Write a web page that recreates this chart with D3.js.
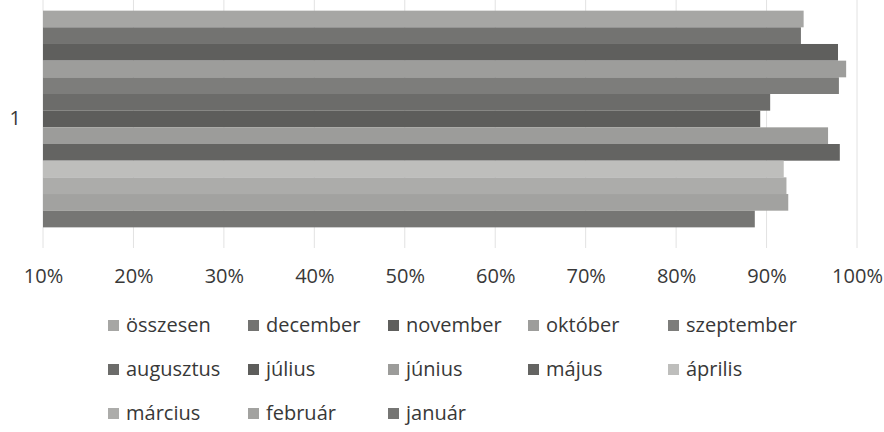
<!DOCTYPE html>
<html>
<head>
<meta charset="utf-8">
<script src="https://cdn.jsdelivr.net/npm/d3@7"></script>
<style>
    body { margin: 0; background: #ffffff; }
    svg { display: block; }
    text { font-family: "Open Sans", "Noto Sans", sans-serif; fill: #383838; }
</style>
</head>
<body>
<svg id="chart" width="884" height="432"></svg>
<script>
// Data
var categories = ["1"];
var seriesNames = ["összesen", "december", "november", "október", "szeptember",
    "augusztus", "július", "június", "május", "április",
    "március", "február", "január"];
var seriesValues = [0.941, 0.938, 0.979, 0.988, 0.980,
    0.904, 0.893, 0.968, 0.981, 0.919,
    0.922, 0.924, 0.887];
var seriesColors = ["#a6a6a4", "#737371", "#5f5f5d", "#9d9d9b", "#7d7d7b",
    "#6c6c6a", "#5d5d5b", "#9c9c9a", "#646462", "#bebebc",
    "#acacaa", "#a2a2a0", "#767674"];
var tickValues = [0.1, 0.2, 0.3, 0.4, 0.5, 0.6, 0.7, 0.8, 0.9, 1.0];

// Layout
var plot = { left: 43, right: 857, top: -10, bottom: 248 };
var legend = { x: 108, y: 320, colWidth: 140, rowHeight: 44, perRow: 5 };

var svg = d3.select("#chart");

var x = d3.scaleLinear()
    .domain([0.1, 1.0])
    .range([plot.left, plot.right]);

var y0 = d3.scaleBand()
    .domain(categories)
    .range([plot.top, plot.bottom])
    .paddingInner(0.16)
    .paddingOuter(0.08);

var y1 = d3.scaleBand()
    .domain(seriesNames)
    .range([0, y0.bandwidth()]);

// Gridlines
svg.append("g")
    .selectAll("line")
    .data(tickValues)
    .enter().append("line")
    .attr("x1", function(d) { return x(d); })
    .attr("x2", function(d) { return x(d); })
    .attr("y1", plot.top)
    .attr("y2", plot.bottom)
    .attr("stroke", "#e2e2e2")
    .attr("stroke-width", 1);

// Bars
var rows = seriesNames.map(function(name, i) {
    return { name: name, value: seriesValues[i], color: seriesColors[i] };
});

var group = svg.append("g")
    .attr("transform", "translate(0," + y0(categories[0]) + ")");

group.selectAll("rect")
    .data(rows)
    .enter().append("rect")
    .attr("x", x(0.1))
    .attr("y", function(d) { return y1(d.name); })
    .attr("width", function(d) { return x(d.value) - x(0.1); })
    .attr("height", y1.bandwidth())
    .attr("fill", function(d) { return d.color; });

// Category axis label
svg.append("g")
    .attr("transform", "translate(" + plot.left + ",0)")
    .call(d3.axisLeft(y0).tickSize(0).tickPadding(22))
    .call(function(g) { g.select(".domain").remove(); })
    .selectAll("text")
    .attr("font-size", 20)
    .attr("font-family", null);

// Value axis
svg.append("g")
    .attr("transform", "translate(0," + plot.bottom + ")")
    .call(d3.axisBottom(x).tickValues(tickValues).tickFormat(d3.format(".0%")).tickSize(0).tickPadding(21))
    .call(function(g) { g.select(".domain").remove(); })
    .selectAll("text")
    .attr("font-size", 20)
    .attr("font-family", null);

// Legend
var item = svg.append("g")
    .selectAll("g")
    .data(rows)
    .enter().append("g")
    .attr("transform", function(d, i) {
        var col = i % legend.perRow;
        var row = Math.floor(i / legend.perRow);
        return "translate(" + (legend.x + col * legend.colWidth) + "," + (legend.y + row * legend.rowHeight) + ")";
    });

item.append("rect")
    .attr("width", 11)
    .attr("height", 11)
    .attr("fill", function(d) { return d.color; });

item.append("text")
    .attr("x", 18)
    .attr("y", 12)
    .attr("font-size", 20)
    .text(function(d) { return d.name; });
</script>
</body>
</html>
